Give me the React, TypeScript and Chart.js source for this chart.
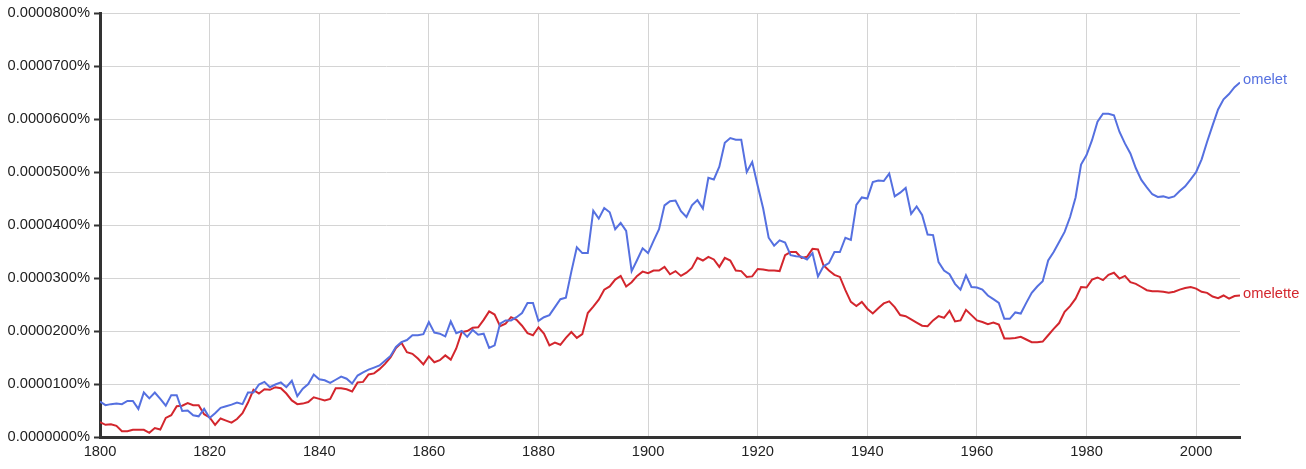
import React, { useEffect, useRef } from "react";
import { Chart, registerables } from "chart.js";

Chart.register(...registerables);

const START_YEAR = 1800;
const END_YEAR = 2008;
const X_TICK_STEP = 20;
const Y_MAX = 80; // in units of 0.000001 %
const Y_STEP = 10;

const SERIES_NAMES = ["omelet", "omelette"];
const SERIES_COLORS = ["#5570e0", "#d3262d"];

// values in units of 0.000001 % (so 10 => 0.0000100%)
const omelet = [
  6.7, 6.0, 6.2, 6.3, 6.2, 6.8, 6.8, 5.3, 8.4, 7.3,
  8.4, 7.2, 5.9, 7.9, 7.9, 4.9, 5.0, 4.1, 3.9, 5.3,
  3.6, 4.5, 5.5, 5.8, 6.1, 6.5, 6.2, 8.4, 8.4, 9.9,
  10.4, 9.4, 9.9, 10.3, 9.4, 10.6, 7.7, 9.1, 10.0, 11.8,
  10.9, 10.7, 10.2, 10.8, 11.4, 11.0, 10.1, 11.6, 12.2, 12.7,
  13.1, 13.5, 14.4, 15.3, 17.0, 17.9, 18.3, 19.2, 19.2, 19.4,
  21.7, 19.7, 19.5, 19.0, 21.8, 19.6, 20.0, 18.9, 20.2, 19.3,
  19.5, 16.8, 17.3, 21.4, 22.0, 22.0, 22.6, 23.4, 25.3, 25.3,
  21.9, 22.6, 23.0, 24.5, 26.0, 26.3, 31.2, 35.8, 34.7, 34.7,
  42.7, 41.2, 43.2, 42.4, 39.2, 40.4, 38.9, 31.3, 33.4, 35.6,
  34.7, 37.0, 39.2, 43.7, 44.5, 44.6, 42.6, 41.5, 43.7, 44.7,
  43.1, 48.9, 48.6, 51.0, 55.5, 56.4, 56.1, 56.1, 50.0, 51.9,
  47.4, 43.1, 37.6, 36.1, 37.1, 36.7, 34.3, 34.1, 34.0, 33.5,
  34.7, 30.3, 32.2, 32.8, 34.9, 34.9, 37.6, 37.2, 43.8, 45.2,
  45.0, 48.1, 48.4, 48.3, 49.7, 45.4, 46.1, 47.0, 42.1, 43.5,
  41.9, 38.2, 38.1, 33.0, 31.4, 30.7, 28.9, 27.8, 30.5, 28.3,
  28.2, 27.8, 26.7, 26.0, 25.3, 22.3, 22.3, 23.5, 23.3, 25.3,
  27.2, 28.4, 29.4, 33.3, 34.9, 36.8, 38.7, 41.5, 45.2, 51.4,
  53.2, 56.0, 59.5, 61.0, 61.0, 60.7, 57.6, 55.4, 53.5, 50.7,
  48.5, 47.1, 45.8, 45.3, 45.4, 45.1, 45.4, 46.4, 47.3, 48.6,
  50.0, 52.4, 55.7, 58.8, 61.8, 63.7, 64.7, 66.0, 66.9,
];

const omelette = [
  2.8, 2.3, 2.4, 2.1, 1.1, 1.1, 1.35, 1.35, 1.35, 0.8,
  1.7, 1.4, 3.6, 4.1, 5.8, 5.9, 6.4, 6.0, 6.0, 4.3,
  3.7, 2.3, 3.5, 3.1, 2.7, 3.4, 4.5, 6.5, 8.9, 8.2,
  9.0, 8.9, 9.4, 9.2, 8.2, 6.9, 6.2, 6.3, 6.6, 7.5,
  7.2, 6.9, 7.2, 9.2, 9.2, 9.0, 8.6, 10.3, 10.4, 11.8,
  12.0, 12.8, 13.8, 15.0, 16.8, 17.8, 16.0, 15.7, 14.8, 13.7,
  15.2, 14.1, 14.5, 15.4, 14.6, 16.7, 19.8, 20.0, 20.6, 20.7,
  22.1, 23.7, 23.1, 20.9, 21.4, 22.6, 22.1, 21.0, 19.6, 19.2,
  20.7, 19.5, 17.3, 17.8, 17.4, 18.7, 19.8, 18.7, 19.4, 23.4,
  24.6, 25.9, 27.8, 28.4, 29.7, 30.4, 28.4, 29.2, 30.4, 31.2,
  30.9, 31.4, 31.4, 32.1, 30.7, 31.3, 30.4, 31.0, 31.9, 33.8,
  33.3, 34.0, 33.5, 32.1, 33.8, 33.3, 31.4, 31.3, 30.2, 30.3,
  31.7, 31.6, 31.4, 31.4, 31.3, 34.3, 34.9, 34.9, 33.8, 34.0,
  35.5, 35.4, 32.4, 31.4, 30.6, 30.2, 27.7, 25.5, 24.7, 25.5,
  24.2, 23.3, 24.3, 25.2, 25.6, 24.5, 23.0, 22.8, 22.2, 21.6,
  21.0, 20.9, 22.0, 22.8, 22.5, 23.8, 21.8, 22.0, 24.0, 23.0,
  22.0, 21.7, 21.3, 21.6, 21.2, 18.6, 18.6, 18.7, 18.9, 18.4,
  17.9, 17.9, 18.0, 19.2, 20.4, 21.5, 23.6, 24.7, 26.1, 28.3,
  28.2, 29.7, 30.1, 29.6, 30.6, 31.0, 29.9, 30.4, 29.2, 28.9,
  28.3, 27.7, 27.5, 27.5, 27.4, 27.2, 27.4, 27.8, 28.1, 28.3,
  28.0, 27.4, 27.2, 26.5, 26.2, 26.7, 26.1, 26.6, 26.7,
];

const FONT_FAMILY = '"Liberation Sans", Arial, Helvetica, sans-serif';

export default function App() {
  const canvasRef = useRef<HTMLCanvasElement | null>(null);

  useEffect(() => {
    document.body.style.margin = "0";
    const canvas = canvasRef.current;
    if (!canvas) return;

    const years: number[] = [];
    for (let y = START_YEAR; y <= END_YEAR; y++) years.push(y);
    const allSeries = [omelet, omelette];

    const endLabels = {
      id: "endLabels",
      afterDatasetsDraw(chart: any) {
        const ctx = chart.ctx;
        ctx.save();
        ctx.font = `14.7px ${FONT_FAMILY}`;
        ctx.textBaseline = "middle";
        ctx.textAlign = "left";
        chart.data.datasets.forEach((ds: any, i: number) => {
          const meta = chart.getDatasetMeta(i);
          const pt = meta.data[meta.data.length - 1];
          if (!pt) return;
          ctx.fillStyle = ds.borderColor;
          ctx.fillText(ds.label, pt.x + 3, pt.y - 2);
        });
        ctx.restore();
      },
    };

    const chart = new Chart(canvas, {
      type: "line",
      data: {
        datasets: allSeries.map((vals, i) => ({
          label: SERIES_NAMES[i],
          data: vals.map((v, j) => ({ x: years[j], y: v })),
          borderColor: SERIES_COLORS[i],
          backgroundColor: SERIES_COLORS[i],
          borderWidth: 2,
          pointRadius: 0,
          tension: 0,
          fill: false,
        })),
      },
      options: {
        responsive: false,
        animation: false,
        events: [],
        layout: { padding: { top: 13, right: 66, bottom: 0, left: 0 } },
        plugins: {
          legend: { display: false },
          tooltip: { enabled: false },
        },
        scales: {
          x: {
            type: "linear",
            min: START_YEAR,
            max: END_YEAR,
            afterBuildTicks: (scale: any) => {
              const t: any[] = [];
              for (let v = START_YEAR; v <= END_YEAR; v += X_TICK_STEP) t.push({ value: v });
              scale.ticks = t;
            },
            afterFit: (scale: any) => {
              scale.height = 32;
            },
            ticks: {
              autoSkip: false,
              maxRotation: 0,
              padding: 6,
              color: "#222",
              font: { family: FONT_FAMILY, size: 14.7 },
              callback: (v: any) => String(v),
            },
            grid: {
              color: "#d4d4d4",
              lineWidth: 1,
              drawTicks: false,
            },
            border: { display: true, color: "#333", width: 3 },
          },
          y: {
            min: 0,
            max: Y_MAX,
            afterFit: (scale: any) => {
              scale.width = 100;
            },
            ticks: {
              stepSize: Y_STEP,
              padding: 4,
              color: "#222",
              font: { family: FONT_FAMILY, size: 14.7 },
              callback: (v: any) => (Number(v) / 1e6).toFixed(7) + "%",
            },
            grid: {
              color: "#d4d4d4",
              lineWidth: 1,
              drawTicks: true,
              tickLength: 6,
              tickColor: "#333",
              tickWidth: 2,
            } as any,
            border: { display: true, color: "#333", width: 3 },
          },
        },
      },
      plugins: [endLabels],
    } as any);

    return () => {
      chart.destroy();
    };
  }, []);

  return (
    <div style={{ position: "absolute", left: 0, top: 0, width: 1306, height: 469, background: "#fff" }}>
      <canvas ref={canvasRef} width={1306} height={469} style={{ display: "block" }} />
    </div>
  );
}
